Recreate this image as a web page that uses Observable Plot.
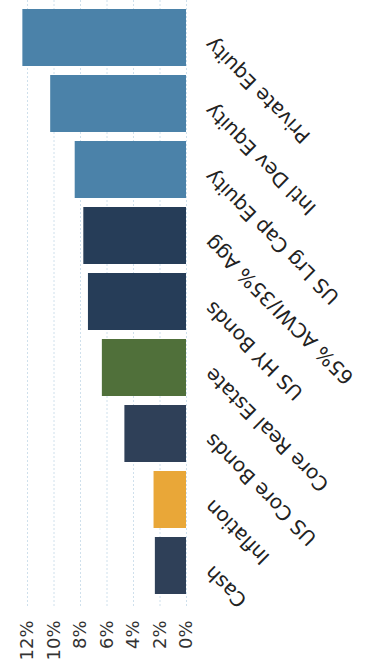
<!DOCTYPE html>
<html>
<head>
<meta charset="utf-8">
<script src="https://cdn.jsdelivr.net/npm/d3@7"></script>
<script src="https://cdn.jsdelivr.net/npm/@observablehq/plot@0.6"></script>
<style>
  html, body { margin: 0; padding: 0; background: #ffffff; }
  #chart svg { display: block; overflow: visible; }
</style>
</head>
<body>
<div id="chart"></div>
<script>
// Expected annual return by asset class (%)
const categories = [
  "Private Equity",
  "Intl Dev Equity",
  "US Lrg Cap Equity",
  "65% ACWI/35% Agg",
  "US HY Bonds",
  "Core Real Estate",
  "US Core Bonds",
  "Inflation",
  "Cash"
];
const returns = [12.35, 10.25, 8.4, 7.75, 7.4, 6.35, 4.65, 2.45, 2.35];
const groups = [
  "Equity", "Equity", "Equity",
  "Blended", "Blended",
  "Real Assets",
  "Fixed Income", "Inflation", "Fixed Income"
];
const tickValues = [0, 2, 4, 6, 8, 10, 12];

const data = categories.map((name, i) => ({name, value: returns[i], group: groups[i]}));

const font = "'DejaVu Sans', sans-serif";

const chart = Plot.plot({
  width: 370,
  height: 663,
  marginTop: 0,
  marginBottom: 56,
  marginLeft: 27,
  marginRight: 184,
  style: {fontFamily: font, background: "#ffffff"},
  x: {domain: [0, 12], reverse: true, label: null},
  y: {domain: categories, range: [-3, 607], padding: 0.131, label: null},
  color: {
    domain: ["Equity", "Blended", "Real Assets", "Fixed Income", "Inflation"],
    range: ["#4b82a9", "#263d58", "#50703a", "#2f4058", "#e9a738"]
  },
  marks: [
    Plot.gridX(tickValues, {stroke: "#cfe0ec", strokeOpacity: 1, strokeDasharray: "2,2", strokeWidth: 1}),
    Plot.barX(data, {x: "value", y: "name", fill: "group"}),
    Plot.axisX(tickValues, {
      anchor: "bottom",
      tickSize: 0,
      tickRotate: -90,
      textAnchor: "end",
      tickPadding: 13,
      tickFormat: d => d + "%",
      fontSize: 18,
      fill: "#333333",
      label: null
    }),
    Plot.axisY({ticks: [], tickSize: 0, label: null}),
    Plot.text(data, {
      x: () => 0,
      y: "name",
      text: "name",
      rotate: -135,
      textAnchor: "end",
      dx: 22,
      dy: 3,
      fontSize: 20,
      fill: "#222222"
    })
  ]
});

document.getElementById("chart").appendChild(chart);
</script>
</body>
</html>
